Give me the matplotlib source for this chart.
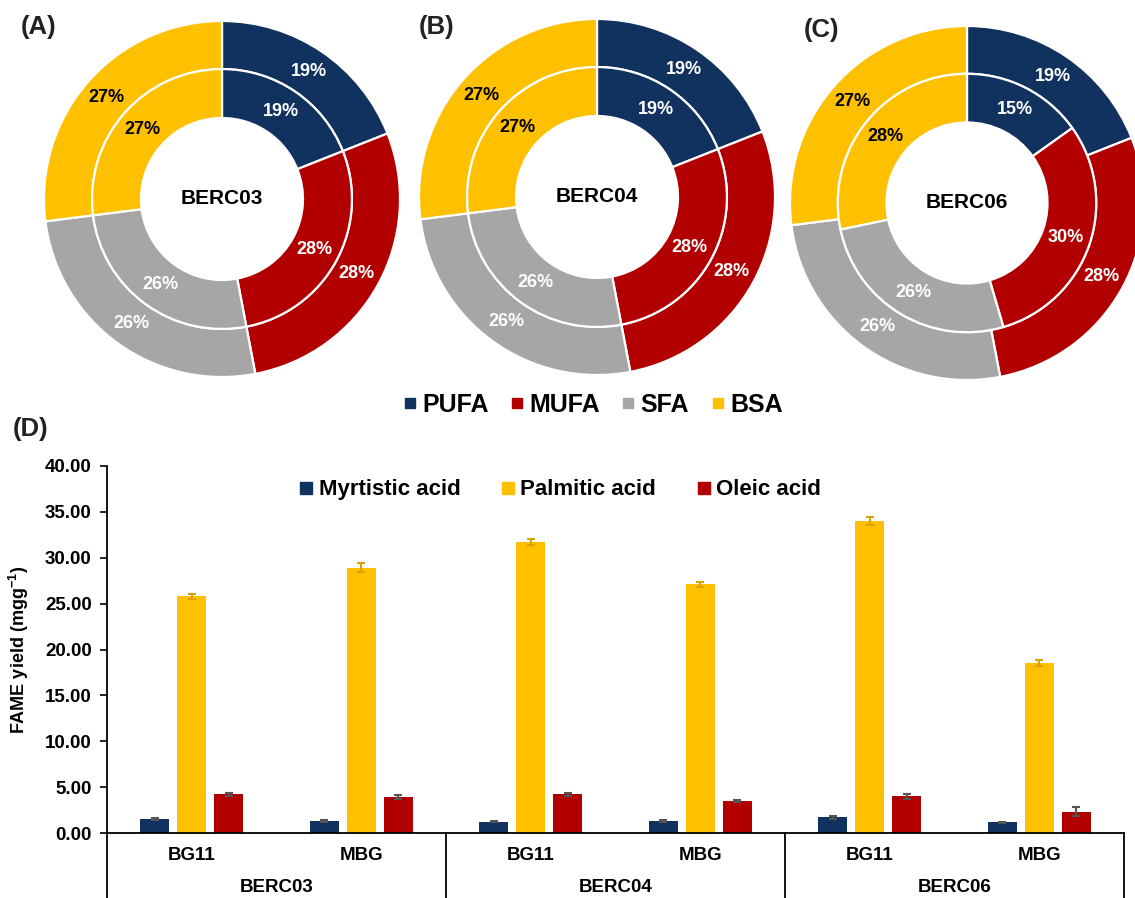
import matplotlib
matplotlib.use("Agg")
import matplotlib.pyplot as plt
import matplotlib.transforms as mtransforms
from matplotlib.lines import Line2D
import numpy as np

plt.rcParams['font.family'] = ['Liberation Sans', 'DejaVu Sans']
plt.rcParams['font.weight'] = 'bold'
plt.rcParams['mathtext.fontset'] = 'custom'
plt.rcParams['mathtext.rm'] = 'Liberation Sans:bold'
plt.rcParams['mathtext.bf'] = 'Liberation Sans:bold'
plt.rcParams['mathtext.default'] = 'bf'

# fatty acid class shares (%) per strain
fa_classes = ['PUFA', 'MUFA', 'SFA', 'BSA']
strains = ['BERC03', 'BERC04', 'BERC06']
panel_tags = ['(A)', '(B)', '(C)']
outer_pct = [[19, 28, 26, 27],
             [19, 28, 26, 27],
             [19, 28, 26, 27]]
inner_pct = [[19, 28, 26, 27],
             [19, 28, 26, 27],
             [15, 30, 26, 28]]

# FAME yields (mg/g) for BG11 / MBG media per strain
media = ['BG11', 'MBG']
acids = ['Myrtistic acid', 'Palmitic acid', 'Oleic acid']
myristic = [1.5, 1.35, 1.25, 1.35, 1.7, 1.15]
palmitic = [25.8, 28.9, 31.7, 27.1, 34.0, 18.5]
oleic = [4.2, 3.9, 4.2, 3.5, 4.0, 2.3]
myristic_err = [0.1, 0.1, 0.1, 0.1, 0.15, 0.1]
palmitic_err = [0.25, 0.5, 0.3, 0.3, 0.4, 0.35]
oleic_err = [0.15, 0.2, 0.2, 0.1, 0.25, 0.5]

NAVY = '#11315f'
RED = '#b20000'
GREY = '#a6a6a6'
GOLD = '#ffc000'
class_colors = [NAVY, RED, GREY, GOLD]
label_colors = ['white', 'white', 'white', 'black']

W, H = 1135, 898
fig = plt.figure(figsize=(W / 100, H / 100), dpi=100)


def px_axes(x0, y0, x1, y1):
    return fig.add_axes([x0 / W, 1 - y1 / H, (x1 - x0) / W, (y1 - y0) / H])


# ---- donuts -------------------------------------------------------------
centers = [(222, 199, 178), (597, 197, 178), (967, 203, 177)]
tag_pos = [(21, 27), (419, 27), (804, 30)]
r_out, r_mid, r_hole = 1.0, 0.73, 0.455

for k, (cx, cy, r) in enumerate(centers):
    ax = px_axes(cx - r, cy - r, cx + r, cy + r)
    rings = [(outer_pct[k], r_out, r_out - r_mid),
             (inner_pct[k], r_mid, r_mid - r_hole)]
    for vals, rad, width in rings:
        wedges, _ = ax.pie(vals, radius=rad, startangle=90, counterclock=False,
                           colors=class_colors,
                           wedgeprops=dict(width=width, edgecolor='white', linewidth=1.6))
        for w, v, tc in zip(wedges, vals, label_colors):
            ang = np.deg2rad((w.theta1 + w.theta2) / 2)
            rr = rad - width / 2
            ax.text(rr * np.cos(ang), rr * np.sin(ang), f'{v}%', color=tc,
                    fontsize=13, fontweight='bold', ha='center', va='center')
    ax.text(0, 0, strains[k], fontsize=15, fontweight='bold', ha='center', va='center')
    ax.set_xlim(-1, 1)
    ax.set_ylim(-1, 1)
    ax.set_aspect('equal')
    ax.axis('off')
    fig.text(tag_pos[k][0] / W, 1 - tag_pos[k][1] / H, panel_tags[k],
             fontsize=18.5, fontweight='bold', ha='left', va='center', color='#222222')

class_handles = [Line2D([], [], linestyle='none', marker='s', markersize=7,
                        markerfacecolor=c, markeredgecolor=c) for c in class_colors]
fig.legend(class_handles, fa_classes, loc='center', ncol=4, frameon=False,
           bbox_to_anchor=(593 / W, 1 - 405 / H),
           prop=dict(size=18, weight='bold'), handlelength=0.5,
           handletextpad=0.25, columnspacing=0.88)

# ---- FAME bar chart -----------------------------------------------------
fig.text(13 / W, 1 - 429 / H, '(D)', fontsize=18.5, fontweight='bold',
         ha='left', va='center', color='#222222')

ax = px_axes(107, 466, 1124, 833)
x = np.arange(len(palmitic))
bw = 0.171
off = 0.219
series = [(myristic, myristic_err, NAVY, '#555555'),
          (palmitic, palmitic_err, GOLD, '#d9a300'),
          (oleic, oleic_err, RED, '#555555')]
for i, (vals, err, col, ecol) in enumerate(series):
    ax.bar(x + (i - 1) * off, vals, bw, color=col, label=acids[i],
           yerr=err, error_kw=dict(ecolor=ecol, elinewidth=1.5, capsize=3, capthick=1.5))

ax.set_xlim(-0.5, len(x) - 0.5)
ax.set_ylim(0, 40)
ax.set_yticks(np.arange(0, 40.1, 5))
ax.set_yticklabels([f'{t:.2f}' for t in np.arange(0, 40.1, 5)], fontsize=13.5, fontweight='bold')
ax.set_xticks([])
ax.tick_params(axis='y', direction='out', length=5, width=1.2, pad=6)
for s in ['top', 'right']:
    ax.spines[s].set_visible(False)
for s in ['left', 'bottom']:
    ax.spines[s].set_linewidth(1.3)

ax.set_ylabel(r'FAME yield (mgg$^{-1}$)', fontsize=13, fontweight='bold')
ax.yaxis.set_label_coords((31 - 107) / 1017, 0.5)

# category box below the axis
trans = mtransforms.blended_transform_factory(ax.transData, ax.transAxes)
for xs in [-0.5, 1.5, 3.5, 5.5]:
    ax.plot([xs, xs], [0, -0.25], color='black', lw=1.3, transform=trans, clip_on=False)
for xi in x:
    ax.text(xi, (833 - 856) / 367, media[xi % 2], transform=trans,
            ha='center', va='center', fontsize=13.5, fontweight='bold')
for k, name in enumerate(strains):
    ax.text(2 * k + 0.5, (833 - 888) / 367, name, transform=trans,
            ha='center', va='center', fontsize=13.5, fontweight='bold')

acid_handles = [Line2D([], [], linestyle='none', marker='s', markersize=8,
                       markerfacecolor=c, markeredgecolor=c) for c in [NAVY, GOLD, RED]]
fig.legend(acid_handles, acids, loc='center', ncol=3, frameon=False,
           bbox_to_anchor=(561 / W, 1 - 490 / H),
           prop=dict(size=16, weight='bold'), handlelength=0.5,
           handletextpad=0.3, columnspacing=1.9)

fig.savefig('out.png', dpi=100)
